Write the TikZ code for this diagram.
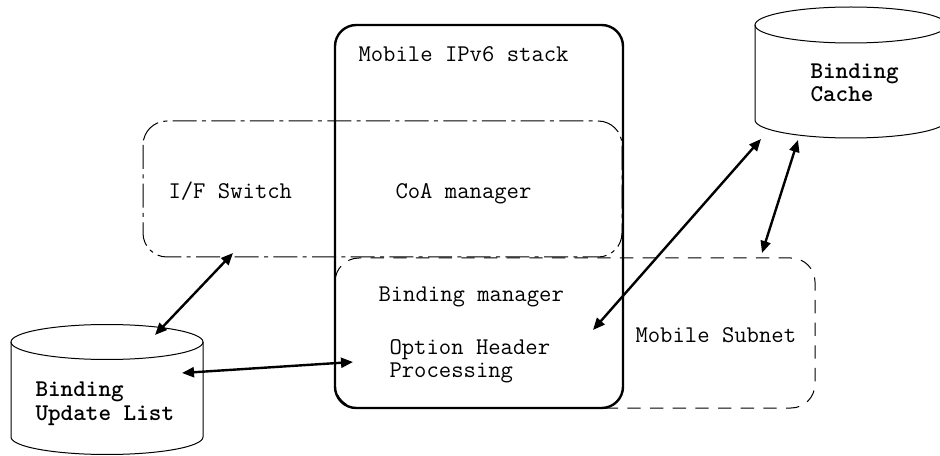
\documentclass[tikz,border=0pt]{standalone}
\usepackage{fontspec}
\usetikzlibrary{arrows.meta}

\tikzset{every picture/.style={line width=0.75pt}}
\tikzset{
  lbl/.style={anchor=base west, inner sep=0pt, align=left, font=\ttfamily\fontsize{18}{17.3}\selectfont},
  blbl/.style={lbl, font=\ttfamily\bfseries\fontsize{18}{17.3}\selectfont},
  stackbox/.style={line width=1.8pt, rounded corners=16pt},
  dashdotbox/.style={rounded corners=18pt, dash pattern=on 18pt off 4pt on 3pt off 4pt},
  dashbox/.style={rounded corners=18pt, dash pattern=on 10pt off 7pt},
  link/.style={{Triangle[length=9pt,width=7.5pt]}-{Triangle[length=9pt,width=7.5pt]}, line width=1.8pt},
}

\begin{document}
\begin{tikzpicture}[x=0.75pt,y=0.75pt,yscale=-1]
\useasboundingbox (0,0) rectangle (940,456);

\draw  [stackbox]  (335,25) rectangle (623,408) ;
\draw  [dashdotbox]  (143,121) rectangle (622,257) ;
\draw  [dashbox]  (335,258) rectangle (815,408) ;

\draw  (107,342) ellipse [x radius=96, y radius=17.5] ;
\draw  (11,342) -- (11,437) arc [start angle=180, end angle=0, x radius=96, y radius=17.5] -- (203,342) ;
\draw  (851,25) ellipse [x radius=96, y radius=18] ;
\draw  (755,25) -- (755,120) arc [start angle=180, end angle=0, x radius=96, y radius=18] -- (947,25) ;

\node [lbl] (stk) at (358,62) {Mobile IPv6 stack};
\node [lbl] (ifsw) at (168,199) {I/F Switch};
\node [lbl] (coamgr) at (395,199) {CoA manager};
\node [lbl] (bmgr) at (378,302) {Binding manager};
\node [lbl] (ohp) at (389,378) {Option Header\\Processing};
\node [lbl] (msub) at (635,343) {Mobile Subnet};
\node [blbl] (bul) at (35,420) {Binding\\Update List};
\node [blbl] (bcache) at (810,102) {Binding\\Cache};

\coordinate (bulTop) at (155,335);
\coordinate (ifswBot) at (233,253);
\coordinate (bulSide) at (182,373);
\coordinate (ohpIn) at (353,362);
\coordinate (stkIn) at (593,330);
\coordinate (bcacheL) at (761,139);
\coordinate (msubTop) at (762,253);
\coordinate (bcacheB) at (798,140);

\draw  [link]  (bulTop) -- (ifswBot) ;
\draw  [link]  (bulSide) -- (ohpIn) ;
\draw  [link]  (stkIn) -- (bcacheL) ;
\draw  [link]  (msubTop) -- (bcacheB) ;

\end{tikzpicture}
\end{document}
